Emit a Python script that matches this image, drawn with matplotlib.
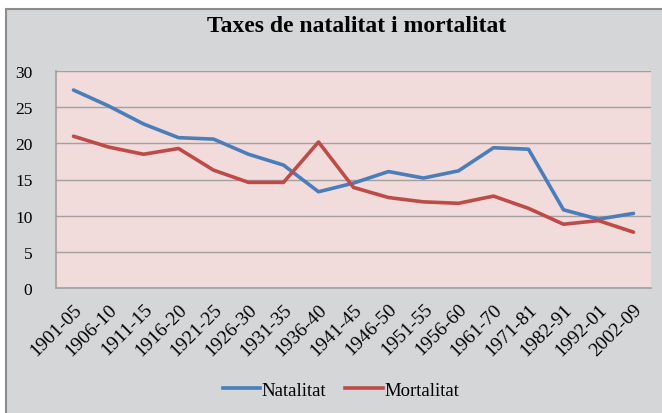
import matplotlib.pyplot as plt
from matplotlib.patches import Rectangle
from matplotlib.lines import Line2D
import numpy as np

# Data
periods = ['1901-05', '1906-10', '1911-15', '1916-20', '1921-25', '1926-30',
           '1931-35', '1936-40', '1941-45', '1946-50', '1951-55', '1956-60',
           '1961-70', '1971-81', '1982-91', '1992-01', '2002-09']
natalitat = [27.4, 25.2, 22.7, 20.8, 20.6, 18.5, 17.0, 13.3, 14.5, 16.1,
             15.2, 16.2, 19.4, 19.2, 10.8, 9.5, 10.3]
mortalitat = [21.0, 19.5, 18.5, 19.3, 16.3, 14.6, 14.6, 20.2, 13.9, 12.5,
              11.9, 11.7, 12.7, 11.0, 8.8, 9.3, 7.7]
yticks = [0, 5, 10, 15, 20, 25, 30]

W, H = 662, 414
fig = plt.figure(figsize=(W / 100, H / 100), dpi=100, facecolor='white')

# chart area background (cropped Excel chart frame)
frame = Rectangle((6 / W, -0.05), 1.2, 1 - 10 / H + 0.05, transform=fig.transFigure,
                  facecolor='#d5d6d8', edgecolor='#8c8c8c', linewidth=1.5, zorder=-5)
fig.patches.append(frame)

ax = fig.add_axes([56 / W, (H - 288.7) / H, 595 / W, 216.4 / H])
ax.set_facecolor('#f2dcdb')

x = np.arange(len(periods))
ax.plot(x, natalitat, color='#4a7ebb', linewidth=2.6, solid_capstyle='round',
        solid_joinstyle='round', zorder=3)
ax.plot(x, mortalitat, color='#be4b48', linewidth=2.6, solid_capstyle='round',
        solid_joinstyle='round', zorder=3)

ax.set_xlim(-0.5, len(periods) - 0.5)
ax.set_ylim(0, 30)
ax.set_yticks(yticks)
ax.yaxis.grid(True, color='#a0a0a0', linewidth=1.0)
ax.set_axisbelow(True)

for s in ['top', 'right']:
    ax.spines[s].set_visible(False)
for s in ['left', 'bottom']:
    ax.spines[s].set_color('#a0a0a0')
    ax.spines[s].set_linewidth(1.2)

ax.tick_params(axis='both', length=0)
ax.tick_params(axis='y', pad=17, labelsize=12.5)
ax.set_xticks(x)
ax.set_xticklabels(periods, rotation=45, ha='right', rotation_mode='anchor',
                   fontsize=14)
ax.tick_params(axis='x', pad=9)
for lab in ax.get_xticklabels() + ax.get_yticklabels():
    lab.set_fontfamily('Liberation Serif')

fig.text(357 / W, 1 - 27 / H, 'Taxes de natalitat i mortalitat', ha='center',
         va='center', fontsize=17, fontweight='bold', family='Liberation Serif')

handles = [Line2D([], [], color='#4a7ebb', linewidth=2.6),
           Line2D([], [], color='#be4b48', linewidth=2.6)]
fig.legend(handles, ['Natalitat', 'Mortalitat'], loc='center',
           bbox_to_anchor=(341 / W, 1 - 391 / H), ncol=2, frameon=False,
           prop={'family': 'Liberation Serif', 'size': 13.5}, handlelength=2.0,
           handletextpad=0.1, columnspacing=1.0)

fig.savefig('out.png', dpi=100, facecolor='white')
